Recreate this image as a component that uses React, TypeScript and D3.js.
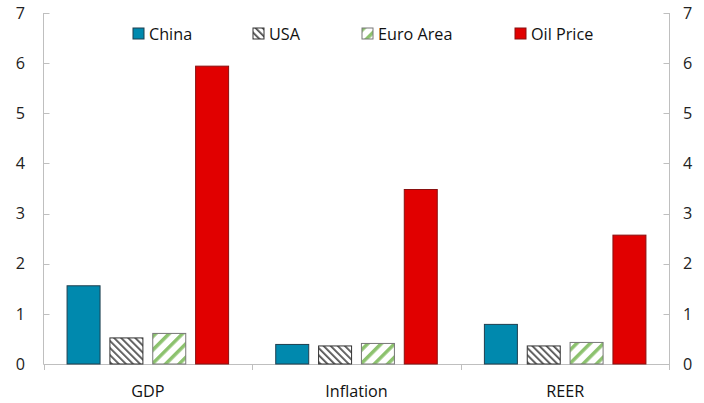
import React from "react";
import * as d3 from "d3";

const categories = ["GDP", "Inflation", "REER"];
const seriesNames = ["China", "USA", "Euro Area", "Oil Price"];
const china = [1.56, 0.39, 0.79];
const usa = [0.52, 0.36, 0.36];
const euro = [0.61, 0.41, 0.43];
const oil = [5.94, 3.48, 2.57];
const yTicks = [0, 1, 2, 3, 4, 5, 6, 7];

const W = 704, H = 403;
const left = 43.5, right = 669.5, top = 13, bottom = 364;
const font = "'Open Sans', 'Noto Sans', sans-serif";
const fs = 16.2;

export default function App() {
  const values = [china, usa, euro, oil];
  const x0 = d3.scaleBand<string>().domain(categories).range([left, right]).padding(0);
  const x1 = d3.scaleBand<string>().domain(seriesNames).range([0, x0.bandwidth()]).paddingInner(0.23).paddingOuter(0.55);
  const y = d3.scaleLinear().domain([0, 7]).range([bottom, top]);
  const fills = ["#0089AE", "url(#usaPat)", "url(#euroPat)", "#E10000"];
  const strokes = ["#1F3F4F", "#333", "#777", "#8A1010"];
  const legendX = [133, 253, 362, 515];
  const axisColor = "#BFBFBF";

  return (
    <svg width={W} height={H} style={{ position: "absolute", left: 0, top: 0, background: "#fff" }}>
      <defs>
        <pattern id="usaPat" patternUnits="userSpaceOnUse" width="5" height="5" patternTransform="rotate(-45)">
          <rect width="5" height="5" fill="#fff" />
          <rect x="0" y="0" width="1.8" height="5" fill="#555" />
        </pattern>
        <pattern id="euroPat" patternUnits="userSpaceOnUse" width="9.5" height="9.5" patternTransform="rotate(45)">
          <rect width="9.5" height="9.5" fill="#fff" />
          <rect x="0" y="0" width="3.5" height="9.5" fill="#8CC26E" />
        </pattern>
      </defs>
      {/* axes */}
      <line x1={left} x2={left} y1={top} y2={bottom} stroke={axisColor} />
      <line x1={right} x2={right} y1={top} y2={bottom + 6} stroke={axisColor} />
      <line x1={left} x2={right} y1={bottom + 0.5} y2={bottom + 0.5} stroke={axisColor} />
      {categories.map((c) => (
        <line key={c} x1={Math.round(x0(c)!) + 0.5} x2={Math.round(x0(c)!) + 0.5} y1={bottom} y2={bottom + 6} stroke={axisColor} />
      ))}
      {yTicks.map((t) => (
        <g key={t}>
          <line x1={left} x2={left + 6} y1={Math.round(y(t)) + 0.5} y2={Math.round(y(t)) + 0.5} stroke={axisColor} />
          <line x1={right - 6} x2={right} y1={Math.round(y(t)) + 0.5} y2={Math.round(y(t)) + 0.5} stroke={axisColor} />
          <text x={25} y={y(t)} dy="0.35em" textAnchor="end" fontFamily={font} fontSize={fs} fill="#222">{t}</text>
          <text x={683} y={y(t)} dy="0.35em" textAnchor="start" fontFamily={font} fontSize={fs} fill="#222">{t}</text>
        </g>
      ))}
      {/* bars */}
      {categories.map((c, ci) => (
        <g key={c} transform={`translate(${x0(c)},0)`}>
          {seriesNames.map((s, si) => (
            <rect key={s} x={x1(s)} y={y(values[si][ci])} width={x1.bandwidth()} height={bottom - y(values[si][ci])}
              fill={fills[si]} stroke={strokes[si]} strokeWidth={1} />
          ))}
          <text x={x0.bandwidth() / 2} y={391} dy="0.35em" textAnchor="middle" fontFamily={font} fontSize={fs} fill="#111">{c}</text>
        </g>
      ))}
      {/* legend */}
      {seriesNames.map((s, i) => (
        <g key={s}>
          <rect x={legendX[i]} y={28} width={11} height={11} fill={fills[i]} stroke={strokes[i]} />
          <text x={legendX[i] + 16} y={34} dy="0.35em" fontFamily={font} fontSize={fs} fill="#111">{s}</text>
        </g>
      ))}
    </svg>
  );
}
